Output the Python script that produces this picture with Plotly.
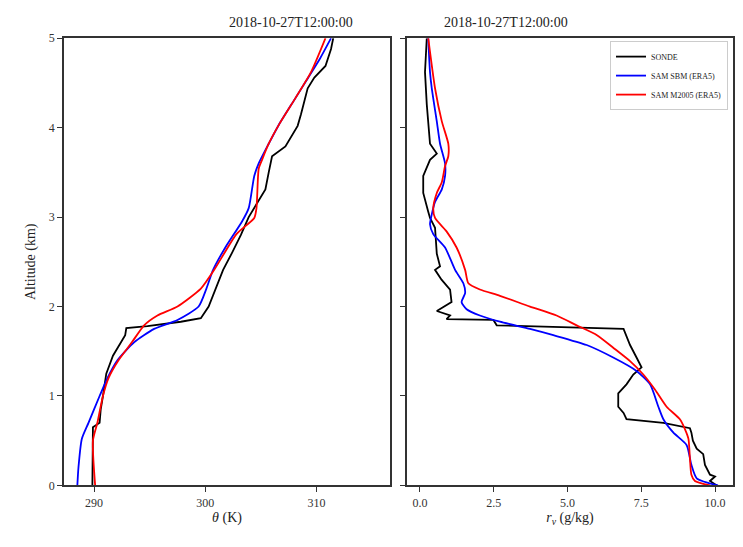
import plotly.graph_objects as go

# ---------------- data ----------------
# Potential temperature (K) vs altitude (km)
sonde_th_z = [0.0, 0.3, 0.65, 0.70, 0.85, 1.0, 1.25, 1.45, 1.6, 1.68, 1.76, 1.78, 1.83, 1.87, 2.0, 2.2, 2.3, 2.41, 2.6, 2.8, 3.0, 3.15, 3.31, 3.5, 3.68, 3.79, 4.02, 4.15, 4.29, 4.44, 4.56, 4.69, 4.88, 5.0]
sonde_th = [289.85, 289.9, 289.9, 290.5, 290.6, 290.8, 291.1, 291.7, 292.4, 292.8, 292.9, 294.8, 297.8, 299.6, 300.3, 300.9, 301.2, 301.6, 302.4, 303.2, 303.9, 304.6, 305.4, 305.7, 306.0, 307.2, 308.3, 308.6, 308.9, 309.2, 309.8, 310.8, 311.3, 311.5]

sbm_th_z = [0.0, 0.2, 0.52, 0.7, 1.0, 1.2, 1.4, 1.6, 1.75, 1.85, 2.0, 2.2, 2.41, 2.66, 2.95, 3.1, 3.46, 3.6, 3.82, 4.03, 4.33, 4.51, 4.77, 5.0]
sbm_th = [288.5, 288.6, 288.9, 289.5, 290.5, 291.2, 292.1, 293.6, 295.4, 297.5, 299.4, 300.1, 300.7, 301.8, 303.3, 303.9, 304.4, 304.8, 305.7, 306.6, 308.1, 309.0, 310.3, 311.3]

morr_th_z = [0.0, 0.5, 0.7, 1.0, 1.2, 1.4, 1.6, 1.79, 1.9, 2.0, 2.2, 2.41, 2.81, 2.99, 3.1, 3.54, 3.64, 3.82, 4.05, 4.33, 4.62, 5.0]
morr_th = [290.1, 289.9, 290.3, 290.8, 291.3, 292.2, 293.4, 294.5, 295.7, 297.5, 299.6, 300.8, 302.8, 304.4, 304.6, 304.8, 305.1, 305.7, 306.7, 308.1, 309.5, 310.8]

# Water vapour mixing ratio (g/kg) vs altitude (km)
sonde_rv_z = [0.0, 0.05, 0.10, 0.12, 0.23, 0.35, 0.41, 0.50, 0.59, 0.64, 0.70, 0.74, 0.81, 0.88, 1.03, 1.13, 1.24, 1.32, 1.43, 1.57, 1.75, 1.76, 1.79, 1.85, 1.86, 1.90, 1.95, 2.05, 2.19, 2.30, 2.41, 2.45, 2.59, 2.88, 2.99, 3.06, 3.27, 3.46, 3.64, 3.71, 3.82, 4.26, 4.62, 5.0]
sonde_rv = [10.06, 9.83, 10.0, 9.83, 9.66, 9.6, 9.38, 9.25, 9.2, 9.15, 8.25, 7.0, 6.9, 6.72, 6.72, 7.0, 7.23, 7.51, 7.34, 7.12, 6.9, 6.0, 2.6, 2.49, 0.9, 1.02, 0.57, 1.07, 1.02, 0.73, 0.51, 0.68, 0.57, 0.51, 0.34, 0.28, 0.11, 0.11, 0.34, 0.57, 0.34, 0.23, 0.17, 0.23]

sbm_rv_z = [0.0, 0.08, 0.23, 0.45, 0.59, 0.74, 0.88, 1.13, 1.28, 1.43, 1.57, 1.68, 1.75, 1.83, 1.90, 1.97, 2.05, 2.15, 2.26, 2.41, 2.66, 2.81, 2.92, 3.03, 3.17, 3.31, 3.46, 3.6, 3.82, 4.07, 4.44, 4.62, 5.0]
sbm_rv = [10.1, 9.38, 9.2, 9.04, 8.59, 8.25, 8.08, 7.8, 7.34, 6.55, 5.65, 4.52, 3.73, 2.71, 2.03, 1.58, 1.41, 1.53, 1.47, 1.19, 0.85, 0.45, 0.34, 0.40, 0.51, 0.74, 0.85, 0.85, 0.68, 0.57, 0.40, 0.34, 0.28]

morr_rv_z = [0.0, 0.05, 0.12, 0.30, 0.52, 0.63, 0.74, 0.88, 1.07, 1.24, 1.39, 1.54, 1.68, 1.79, 1.90, 2.0, 2.12, 2.19, 2.26, 2.41, 2.66, 2.84, 2.99, 3.1, 3.27, 3.39, 3.57, 3.68, 3.82, 4.07, 4.44, 5.0]
morr_rv = [9.83, 9.32, 9.2, 9.15, 9.1, 8.98, 8.81, 8.36, 7.97, 7.57, 7.12, 6.55, 6.0, 5.31, 4.63, 3.73, 2.71, 2.03, 1.64, 1.53, 1.24, 0.9, 0.51, 0.45, 0.57, 0.74, 0.85, 0.96, 0.96, 0.74, 0.51, 0.28]

series_names = ["SONDE", "SAM SBM (ERA5)", "SAM M2005 (ERA5)"]
series_colors = ["black", "#0000ff", "#ff0000"]
title_text = "2018-10-27T12:00:00"
z_ticks = [0, 1, 2, 3, 4, 5]
th_ticks = [290, 300, 310]
rv_ticks = [0.0, 2.5, 5.0, 7.5, 10.0]
rv_tick_labels = ["0.0", "2.5", "5.0", "7.5", "10.0"]

# ---------------- figure ----------------
FONT = "Liberation Serif"
fig = go.Figure()

th_data = [(sonde_th, sonde_th_z), (sbm_th, sbm_th_z), (morr_th, morr_th_z)]
rv_data = [(sonde_rv, sonde_rv_z), (sbm_rv, sbm_rv_z), (morr_rv, morr_rv_z)]

for i, (xv, zv) in enumerate(th_data):
    fig.add_trace(go.Scatter(x=xv, y=zv, mode="lines", name=series_names[i],
                             line=dict(color=series_colors[i], width=1.8,
                                       shape="spline" if i > 0 else "linear", smoothing=0.6),
                             showlegend=False, xaxis="x", yaxis="y"))
for i, (xv, zv) in enumerate(rv_data):
    fig.add_trace(go.Scatter(x=xv, y=zv, mode="lines", name=series_names[i],
                             line=dict(color=series_colors[i], width=1.8,
                                       shape="spline" if i > 0 else "linear", smoothing=0.6),
                             showlegend=True, xaxis="x2", yaxis="y2"))

W, H = 743, 547
ydom = [1 - 491 / H, 1 - 32 / H]
axis_common = dict(showgrid=False, zeroline=False, showline=True, linecolor="#333333",
                   linewidth=1.5, mirror=True, ticks="outside", ticklen=5, tickwidth=1,
                   tickcolor="#333333", tickfont=dict(family=FONT, size=12, color="#333333"))

fig.update_layout(
    width=W, height=H,
    margin=dict(l=0, r=0, t=0, b=0),
    paper_bgcolor="white", plot_bgcolor="white",
    font=dict(family=FONT, color="#222222"),
    xaxis=dict(domain=[64 / W, 390 / W], range=[287.3, 316.6], tickvals=th_ticks,
               title=dict(text="<i>θ</i> (K)", font=dict(family=FONT, size=14), standoff=4),
               anchor="y", **axis_common),
    yaxis=dict(domain=ydom, range=[0, 5], tickvals=z_ticks,
               title=dict(text="Altitude (km)", font=dict(family=FONT, size=14), standoff=10),
               anchor="x", **axis_common),
    xaxis2=dict(domain=[407 / W, 733 / W], range=[-0.44, 10.61], tickvals=rv_ticks,
                ticktext=rv_tick_labels,
                title=dict(text="<i>r<sub>v</sub></i> (g/kg)", font=dict(family=FONT, size=14), standoff=4),
                anchor="y2", **axis_common),
    yaxis2=dict(domain=ydom, range=[0, 5], tickvals=z_ticks, showticklabels=False,
                anchor="x2", **axis_common),
    legend=dict(x=728 / W, y=1 - 35 / H, xanchor="right", yanchor="top",
                bgcolor="white", bordercolor="#cccccc", borderwidth=1,
                font=dict(family=FONT, size=8), tracegroupgap=0, itemwidth=30),
    annotations=[
        dict(text=title_text, x=(64 + 390) / 2 / W, y=1 - 16 / H, xref="paper", yref="paper",
             showarrow=False, font=dict(family=FONT, size=14, color="#222222"), yanchor="middle"),
        dict(text=title_text, x=(407 + 733) / 2 / W, y=1 - 16 / H, xref="paper", yref="paper",
             showarrow=False, font=dict(family=FONT, size=14, color="#222222"), yanchor="middle"),
    ],
)

fig.write_html("out.html")
